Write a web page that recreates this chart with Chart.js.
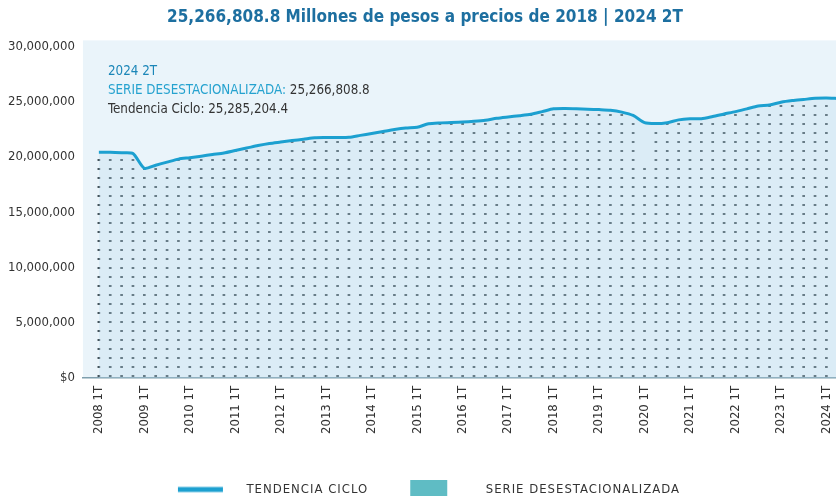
<!DOCTYPE html>
<html>
<head>
<meta charset="utf-8">
<script src="https://cdn.jsdelivr.net/npm/chart.js@4.4.1/dist/chart.umd.min.js"></script>
<style>
  html, body { margin: 0; padding: 0; background: #ffffff; overflow: hidden; width: 836px; height: 496px; }
  #wrap { width: 850px; height: 506px; }
</style>
</head>
<body>
<div id="wrap"><canvas id="c" width="850" height="506"></canvas></div>
<script>
const quarters = [
  '2008 1T','2008 2T','2008 3T','2008 4T',
  '2009 1T','2009 2T','2009 3T','2009 4T',
  '2010 1T','2010 2T','2010 3T','2010 4T',
  '2011 1T','2011 2T','2011 3T','2011 4T',
  '2012 1T','2012 2T','2012 3T','2012 4T',
  '2013 1T','2013 2T','2013 3T','2013 4T',
  '2014 1T','2014 2T','2014 3T','2014 4T',
  '2015 1T','2015 2T','2015 3T','2015 4T',
  '2016 1T','2016 2T','2016 3T','2016 4T',
  '2017 1T','2017 2T','2017 3T','2017 4T',
  '2018 1T','2018 2T','2018 3T','2018 4T',
  '2019 1T','2019 2T','2019 3T','2019 4T',
  '2020 1T','2020 2T','2020 3T','2020 4T',
  '2021 1T','2021 2T','2021 3T','2021 4T',
  '2022 1T','2022 2T','2022 3T','2022 4T',
  '2023 1T','2023 2T','2023 3T','2023 4T',
  '2024 1T','2024 2T'
];

// Tendencia ciclo (millones de pesos a precios de 2018)
const tendenciaCiclo = [
  20420000, 20415000, 20370000, 20300000,
  18970000, 19250000, 19530000, 19800000,
  19930000, 20070000, 20220000, 20360000,
  20580000, 20800000, 21030000, 21220000,
  21350000, 21480000, 21600000, 21730000,
  21750000, 21760000, 21780000, 21950000,
  22120000, 22300000, 22480000, 22620000,
  22690000, 23000000, 23080000, 23110000,
  23150000, 23220000, 23320000, 23500000,
  23620000, 23730000, 23860000, 24100000,
  24350000, 24380000, 24360000, 24320000,
  24280000, 24220000, 24050000, 23750000,
  23100000, 23020000, 23100000, 23350000,
  23450000, 23450000, 23650000, 23880000,
  24100000, 24350000, 24600000, 24700000,
  24950000, 25100000, 25200000, 25300000,
  25330000, 25285204.4
];

// Serie desestacionalizada (millones de pesos a precios de 2018)
const serieDesestacionalizada = [
  20380000, 20400000, 20310000, 20200000,
  18900000, 19100000, 19450000, 19750000,
  19900000, 20050000, 20200000, 20340000,
  20560000, 20780000, 21000000, 21200000,
  21330000, 21460000, 21580000, 21700000,
  21730000, 21740000, 21760000, 21930000,
  22100000, 22280000, 22450000, 22600000,
  22670000, 22980000, 23050000, 23090000,
  23130000, 23200000, 23300000, 23480000,
  23600000, 23710000, 23840000, 24080000,
  24330000, 24360000, 24340000, 24300000,
  24260000, 24200000, 24020000, 23600000,
  19400000, 22400000, 23000000, 23320000,
  23430000, 23430000, 23630000, 23860000,
  24080000, 24330000, 24580000, 24680000,
  24930000, 25080000, 25180000, 25280000,
  25310000, 25266808.8
];

const yTicks = [0, 5000000, 10000000, 15000000, 20000000, 25000000, 30000000];

const FONT = "'DejaVu Sans Condensed', 'DejaVu Sans', sans-serif";
const last = quarters.length - 1;
const fmt1 = v => v.toLocaleString('en-US', {minimumFractionDigits: 1, maximumFractionDigits: 1});
const LINE_COLOR = '#1ca0d0';
const SWATCH_COLOR = '#5fbcc4';

// dotted pattern for columns
const pc = document.createElement('canvas');
pc.width = 4; pc.height = 9;
const pctx = pc.getContext('2d');
pctx.fillStyle = '#44535b';
pctx.fillRect(0, 6, 4, 2);
const ctx0 = document.getElementById('c').getContext('2d');
const dotPattern = ctx0.createPattern(pc, 'repeat');

// legend swatches
const BOXW = 70;
const LEG_PAD = 41;
const sw1 = document.createElement('canvas');
sw1.width = BOXW; sw1.height = 8;
(function () { const g = sw1.getContext('2d'); g.fillStyle = LINE_COLOR; g.fillRect(8, 1.5, 45, 5); })();
const sw2 = document.createElement('canvas');
sw2.width = BOXW; sw2.height = 20;
(function () { const g = sw2.getContext('2d'); g.fillStyle = SWATCH_COLOR; g.fillRect(1, 0, 37, 20); })();

// letter-spaced legend text
const LegendEl = Chart.Legend._element;
const origFit = LegendEl.prototype.fit;
const origDraw = LegendEl.prototype.draw;
LegendEl.prototype.fit = function () { const c = this.ctx; c.save(); c.letterSpacing = '1px'; origFit.call(this); c.restore(); };
LegendEl.prototype.draw = function () { const c = this.ctx; c.save(); c.letterSpacing = '1px'; origDraw.call(this); c.restore(); };

const bgPlugin = {
  id: 'bg',
  beforeDraw(chart) {
    const {ctx, chartArea: a} = chart;
    ctx.save();
    ctx.fillStyle = '#ffffff';
    ctx.fillRect(0, 0, chart.width, chart.height);
    ctx.fillStyle = '#eaf4fa';
    ctx.fillRect(a.left, a.top - 6, chart.width - a.left, a.bottom - a.top + 6);
    ctx.restore();
  }
};

const notePlugin = {
  id: 'note',
  afterDraw(chart) {
    const {ctx, chartArea: a} = chart;
    const x = a.left + 25;
    ctx.save();
    ctx.font = '13.3px ' + FONT;
    ctx.textBaseline = 'middle';
    ctx.textAlign = 'left';
    ctx.fillStyle = '#1b86b8';
    ctx.fillText(quarters[last], x, a.top + 25);
    const lab = 'SERIE DESESTACIONALIZADA: ';
    ctx.fillStyle = '#25a2cf';
    ctx.fillText(lab, x, a.top + 44);
    const w = ctx.measureText(lab).width;
    ctx.fillStyle = '#333333';
    ctx.fillText(fmt1(serieDesestacionalizada[last]), x + w, a.top + 44);
    ctx.fillText('Tendencia Ciclo: ' + fmt1(tendenciaCiclo[last]), x, a.top + 63);
    ctx.restore();
  }
};

new Chart(ctx0, {
  data: {
    datasets: [
      {
        type: 'line',
        label: 'TENDENCIA CICLO',
        data: tendenciaCiclo.map((v, i) => ({x: i, y: v})),
        borderColor: LINE_COLOR,
        borderWidth: 3,
        pointRadius: 0,
        tension: 0.25,
        fill: 'origin',
        backgroundColor: 'rgba(185,218,238,0.30)',
        order: 0
      },
      {
        type: 'bar',
        label: 'SERIE DESESTACIONALIZADA',
        data: serieDesestacionalizada.map((v, i) => ({x: i, y: v})),
        backgroundColor: dotPattern,
        barThickness: 2,
        order: 1
      }
    ]
  },
  options: {
    responsive: false,
    animation: false,
    layout: { padding: { left: 0, right: 0, top: 0, bottom: 0 } },
    plugins: {
      title: {
        display: true,
        text: fmt1(serieDesestacionalizada[last]) + ' Millones de pesos a precios de 2018 | ' + quarters[last],
        color: '#1d6fa0',
        font: { family: FONT, size: 17, weight: 'bold' },
        padding: { top: 7, bottom: 19 }
      },
      legend: {
        position: 'bottom',
        labels: {
          color: '#333333',
          font: { family: FONT, size: 13 },
          usePointStyle: true,
          pointStyleWidth: BOXW,
          boxHeight: 13,
          padding: LEG_PAD,
          generateLabels() {
            return [
              { text: 'TENDENCIA CICLO', pointStyle: sw1, strokeStyle: LINE_COLOR, fillStyle: LINE_COLOR, lineWidth: 0, datasetIndex: 0, fontColor: '#333333' },
              { text: 'SERIE DESESTACIONALIZADA', pointStyle: sw2, strokeStyle: SWATCH_COLOR, fillStyle: SWATCH_COLOR, lineWidth: 0, datasetIndex: 1, fontColor: '#333333' }
            ];
          }
        }
      },
      tooltip: { enabled: false }
    },
    scales: {
      x: {
        type: 'linear',
        offset: false,
        bounds: 'data',
        min: -1.4,
        max: 66.05,
        grid: { display: false, drawTicks: false },
        border: { display: true, color: '#7f9fae', width: 1.5 },
        afterBuildTicks(scale) {
          scale.ticks = quarters.map((q, i) => i).filter(i => quarters[i].endsWith('1T')).map(i => ({value: i}));
        },
        ticks: {
          autoSkip: false,
          minRotation: 90,
          maxRotation: 90,
          padding: 8,
          color: '#333333',
          font: { family: FONT, size: 13 },
          callback: (v) => quarters[v]
        }
      },
      y: {
        min: 0,
        max: 30000000,
        grid: { display: false, drawTicks: false },
        border: { display: false },
        afterBuildTicks(scale) { scale.ticks = yTicks.map(v => ({value: v})); },
        ticks: {
          padding: 8,
          color: '#333333',
          font: { family: FONT, size: 13 },
          callback: (v) => v === 0 ? '$0' : v.toLocaleString('en-US')
        }
      }
    }
  },
  plugins: [bgPlugin, notePlugin]
});
</script>
</body>
</html>
